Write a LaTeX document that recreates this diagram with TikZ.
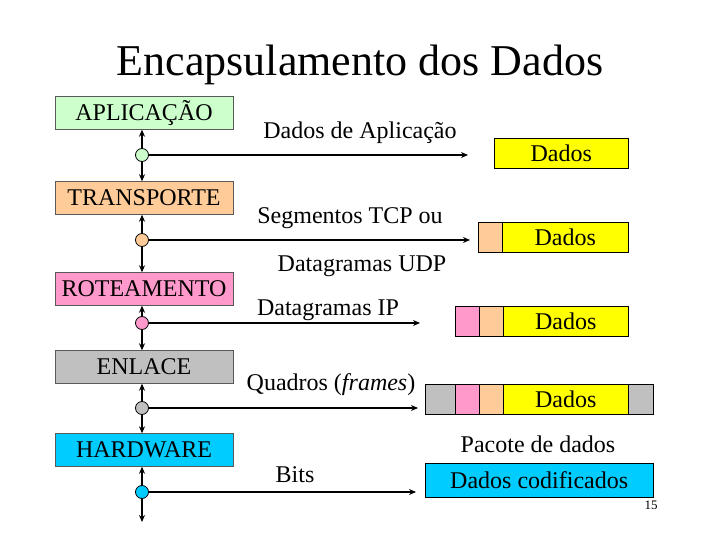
\documentclass[tikz,border=0pt]{standalone}
\usepackage{fontspec}
\setmainfont{Liberation Serif}
\usetikzlibrary{arrows.meta}
\begin{document}
\begin{tikzpicture}[x=1pt,y=-1pt,
 layer/.style={draw=gray!70!black,minimum width=178pt,minimum height=33pt,inner sep=0pt,font=\fontsize{24}{26}\selectfont},
 dot/.style={circle,draw=black,thick,minimum size=13pt,inner sep=0pt},
 cell/.style={draw=black,minimum height=30pt,inner sep=0pt,anchor=west,font=\fontsize{24}{26}\selectfont},
 lbl/.style={font=\fontsize{24}{26}\selectfont,inner sep=0pt},
 arr/.style={line width=1.6pt,-{Stealth[length=7pt,width=6pt]}},
 arr2/.style={line width=1.6pt,{Stealth[length=7pt,width=6pt]}-{Stealth[length=7pt,width=6pt]}}]
\useasboundingbox (0,0) rectangle (720,540);
\definecolor{cgreen}{HTML}{CCFFCC}
\definecolor{corange}{HTML}{FFCC99}
\definecolor{cpink}{HTML}{FF99CC}
\definecolor{cgray}{HTML}{C0C0C0}
\definecolor{cblue}{HTML}{00CCFF}
\definecolor{cyellow}{HTML}{FFFF00}
\node[font=\fontsize{44}{48}\selectfont] (title) at (360,65) {Encapsulamento dos Dados};
\node[layer,fill=cgreen] (L1) at (144,113) {APLICAÇÃO};
\node[layer,fill=corange] (L2) at (144,198) {TRANSPORTE};
\node[layer,fill=cpink] (L3) at (144,289) {ROTEAMENTO};
\node[layer,fill=cgray] (L4) at (144,367) {ENLACE};
\node[layer,fill=cblue] (L5) at (144,450) {HARDWARE};
\coordinate (e5) at (142,522);
\foreach \a/\b in {L1/L2,L2/L3,L3/L4,L4/L5}{\draw[arr2] (\a.south-|e5) -- (\b.north-|e5);}
\draw[arr2] (L5.south-|e5) -- (e5);
\coordinate (h1) at (468,155); \coordinate (h2) at (470,240); \coordinate (h3) at (420,323);
\coordinate (h4) at (418,408); \coordinate (h5) at (416,492);
\node[dot,fill=cgreen] (c1) at (142,155) {};
\node[dot,fill=corange] (c2) at (142,240) {};
\node[dot,fill=cpink] (c3) at (142,323) {};
\node[dot,fill=cgray] (c4) at (142,408) {};
\node[dot,fill=cblue] (c5) at (142,492) {};
\foreach \i in {1,...,5}{\draw[arr] (c\i) -- (h\i);}
\node[lbl] (t1) at (360,133) {Dados de Aplicação};
\node[lbl] (t2) at (350,218) {Segmentos TCP ou};
\node[lbl] (t2b) at (362,266) {Datagramas UDP};
\node[lbl] (t3) at (328,310) {Datagramas IP};
\node[lbl] (t4) at (331,385) {Quadros (\textit{frames})};
\node[lbl] (t5) at (295,475) {Bits};
\node[cell,fill=cyellow,minimum width=134pt] (r1) at (494,153) {Dados};
\node[cell,fill=corange,minimum width=24pt] (r2a) at (478,237) {};
\node[cell,fill=cyellow,minimum width=126pt] (r2b) at (502,237) {Dados};
\node[cell,fill=cpink,minimum width=24pt] (r3a) at (455,321) {};
\node[cell,fill=corange,minimum width=24pt] (r3b) at (479,321) {};
\node[cell,fill=cyellow,minimum width=125pt] (r3c) at (503,321) {Dados};
\node[cell,fill=cgray,minimum width=30pt] (r4a) at (425,399) {};
\node[cell,fill=cpink,minimum width=24pt] (r4b) at (455,399) {};
\node[cell,fill=corange,minimum width=24pt] (r4c) at (479,399) {};
\node[cell,fill=cyellow,minimum width=125pt] (r4d) at (503,399) {Dados};
\node[cell,fill=cgray,minimum width=25pt] (r4e) at (628,399) {};
\node[lbl] (pac) at (538,444) {Pacote de dados};
\node[cell,fill=cblue,minimum width=228pt,minimum height=34pt] (r5) at (425,480) {Dados codificados};
\node[font=\fontsize{13}{14}\selectfont,inner sep=0pt] (pg) at (651,505) {15};
\end{tikzpicture}
\end{document}
